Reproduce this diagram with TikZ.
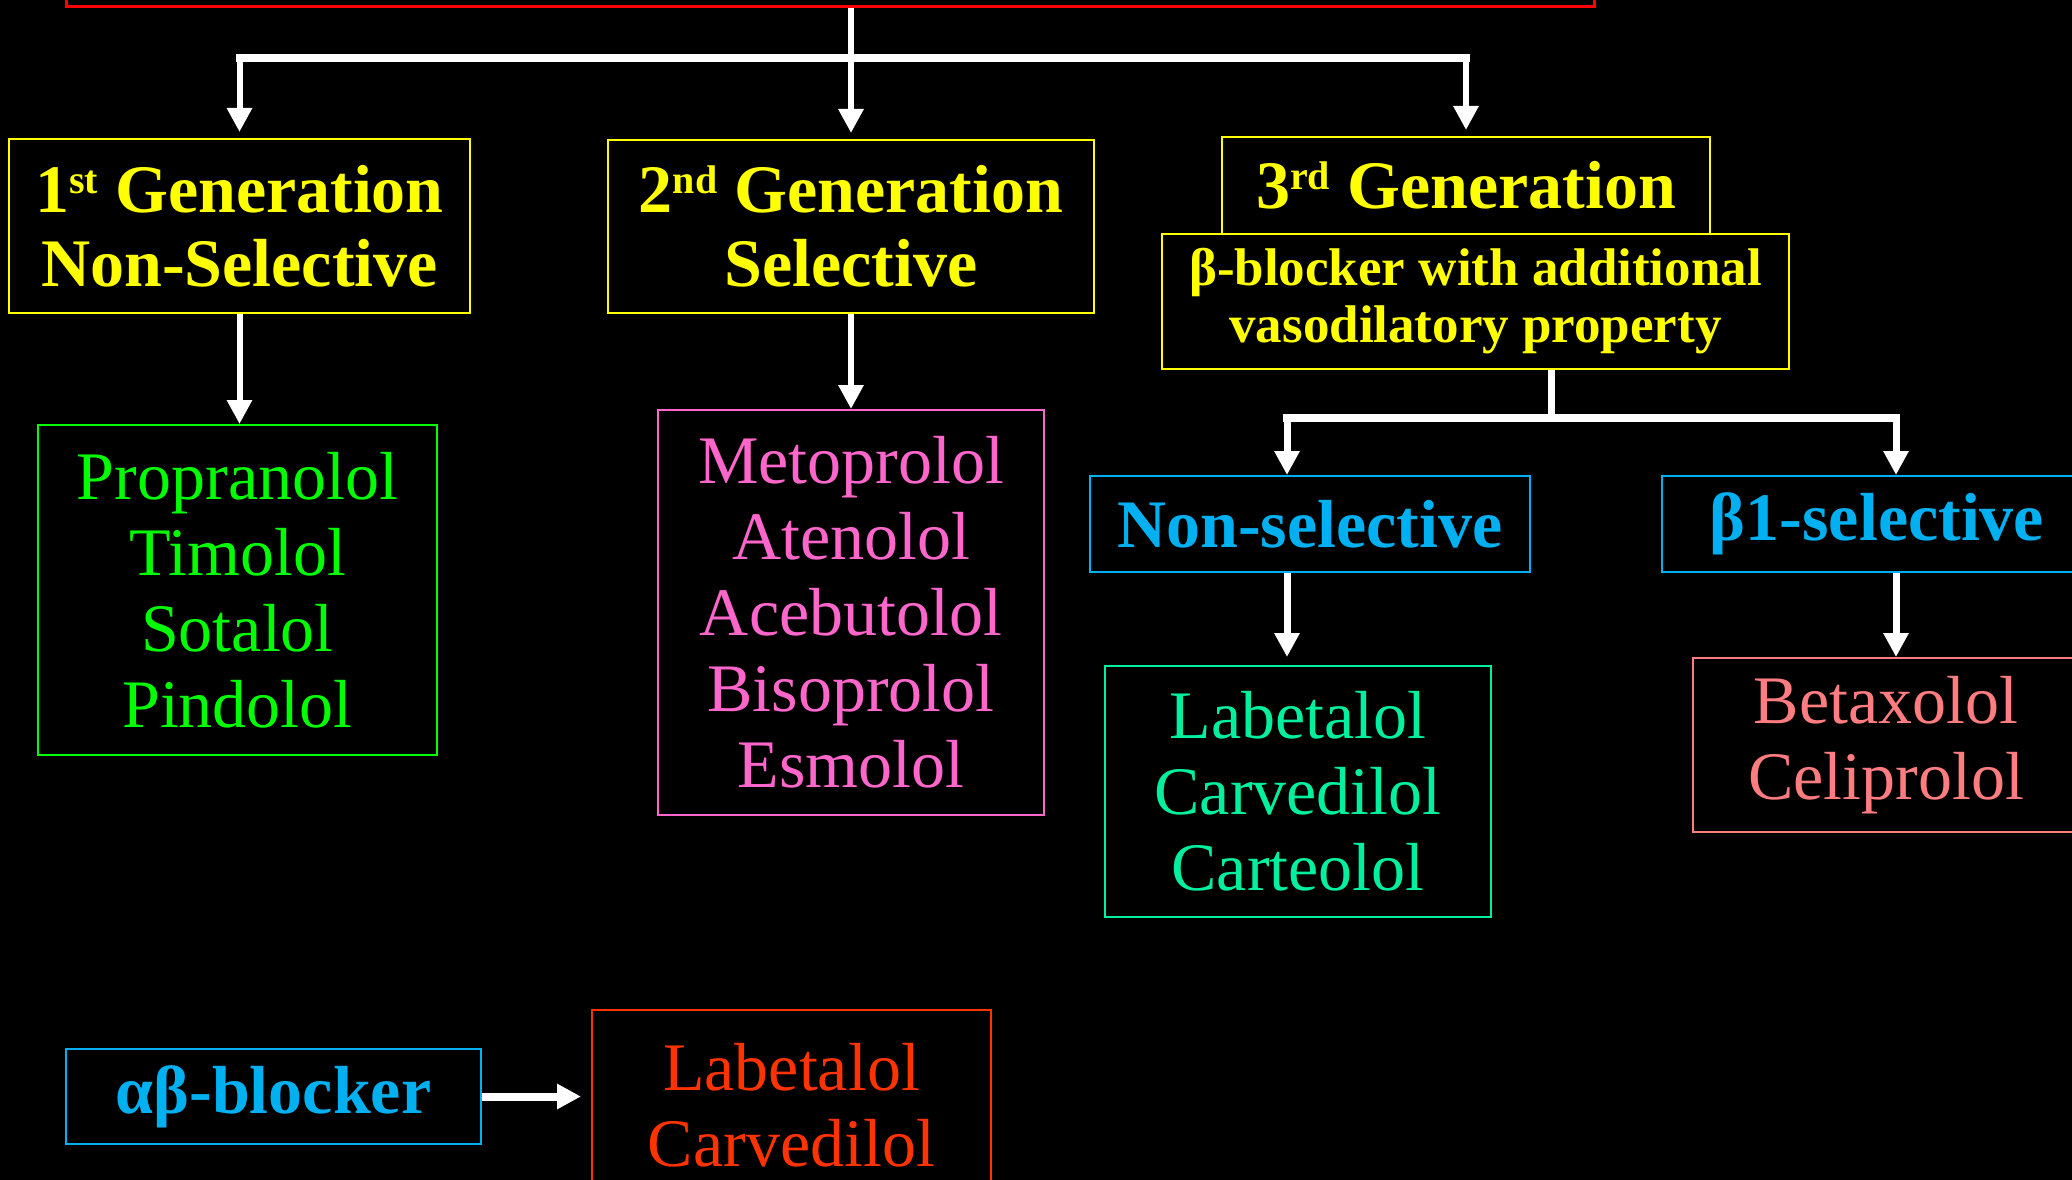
\documentclass[tikz,border=0pt]{standalone}
\usepackage{fontspec}
\setmainfont{Liberation Serif}
\usetikzlibrary{arrows.meta}
\definecolor{yel}{HTML}{FFFF00}
\definecolor{grn}{HTML}{00FF00}
\definecolor{pnk}{HTML}{FF66CC}
\definecolor{cyn}{HTML}{00B0F0}
\definecolor{mnt}{HTML}{00F0A0}
\definecolor{slm}{HTML}{FF7C80}
\definecolor{org}{HTML}{FF3300}
\definecolor{topred}{HTML}{FF0000}
\newcommand{\mysup}[1]{\raisebox{19pt}{\fontsize{40}{40}\selectfont #1}}
\tikzset{
  box/.style={draw, line width=2pt, align=center, inner sep=0pt},
  hdr/.style={box, draw=yel, text=yel, font=\bfseries\fontsize{68}{74}\selectfont},
  sub/.style={box, draw=cyn, text=cyn, font=\bfseries\fontsize{68}{74}\selectfont},
  lst/.style={box, font=\fontsize{68}{76}\selectfont},
  conn/.style={draw=white, line width=6pt},
  arr/.style={conn, -{Triangle[width=24pt,length=24pt]}}
}
\begin{document}
\begin{tikzpicture}[x=1pt,y=-1pt]
\path[use as bounding box, fill=black] (0,0) rectangle (2072,1180);
\clip (0,0) rectangle (2072,1180);

% top (cut-off) box
\node[draw=topred, line width=3pt, minimum width=1528pt, minimum height=107pt, inner sep=0pt] (top) at (830,-46.5) {};

% generations
\node[hdr, minimum width=461pt, minimum height=174pt] (gen1) at (239.5,226) {1\mysup{st} Generation\\Non-Selective};
\node[hdr, minimum width=486pt, minimum height=173pt] (gen2) at (851,226.5) {2\mysup{nd} Generation\\Selective};
\node[hdr, minimum width=488pt, minimum height=97pt] (gen3) at (1466,185.5) {3\mysup{rd} Generation};
\node[hdr, minimum width=627pt, minimum height=135pt, font=\bfseries\fontsize{53}{57}\selectfont] (gen3b) at (1475.5,301.5) {β-blocker with additional\\vasodilatory property};

% drug lists
\node[lst, draw=grn, text=grn, minimum width=399pt, minimum height=330pt] (list1) at (237.5,590) {Propranolol\\Timolol\\Sotalol\\Pindolol};
\node[lst, draw=pnk, text=pnk, minimum width=386pt, minimum height=405pt] (list2) at (851,612.5) {Metoprolol\\Atenolol\\Acebutolol\\Bisoprolol\\Esmolol};

% 3rd generation subclasses
\node[sub, minimum width=440pt, minimum height=96pt] (nonsel) at (1310,524) {Non-selective};
\node[sub, minimum width=430pt, minimum height=96pt] (b1sel) at (1877,524) {β1-selective};
\node[lst, draw=mnt, text=mnt, minimum width=386pt, minimum height=251pt] (list3) at (1298,791.5) {Labetalol\\Carvedilol\\Carteolol};
\node[lst, draw=slm, text=slm, minimum width=386pt, minimum height=174pt] (list4) at (1886,745) {Betaxolol\\Celiprolol};

% alpha-beta blockers
\node[sub, minimum width=415pt, minimum height=95pt] (ab) at (273.5,1096.5) {αβ-blocker};
\node[lst, draw=org, text=org, minimum width=399pt, minimum height=190pt] (list5) at (791.5,1105) {Labetalol\\Carvedilol};

% connectors
\coordinate (bus) at (851,58);
\coordinate (split) at (1551,418);
\coordinate (nsx) at (1287,0);
\coordinate (bx) at (1896,0);

\draw[arr, shorten >=6pt] (top.south -| gen2) -- (gen2.north);
\draw[conn, line width=7.5pt, line cap=rect] (bus -| gen1) -- (bus -| gen3);
\draw[arr, shorten >=6pt] (bus -| gen1) -- (gen1.north);
\draw[arr, shorten >=6pt] (bus -| gen3) -- (gen3.north);

\draw[arr] (gen1.south) -- (gen1.south |- list1.north);
\draw[arr] (gen2.south) -- (list2.north);

\draw[conn, line width=7pt] (gen3b.south -| split) -- (split);
\draw[conn, line width=7.5pt, line cap=rect] (split -| nsx) -- (split -| bx);
\draw[arr, line width=7pt] (split -| nsx) -- (nonsel.north -| nsx);
\draw[arr, line width=7pt] (split -| bx) -- (b1sel.north -| bx);
\draw[arr, line width=7pt, shorten >=8pt] (nonsel.south -| nsx) -- (list3.north -| nsx);
\draw[arr, line width=7pt] (b1sel.south -| bx) -- (list4.north -| bx);

\draw[arr, line width=8pt, shorten >=10pt] (ab.east) -- (list5.west |- ab.east);
\end{tikzpicture}
\end{document}
